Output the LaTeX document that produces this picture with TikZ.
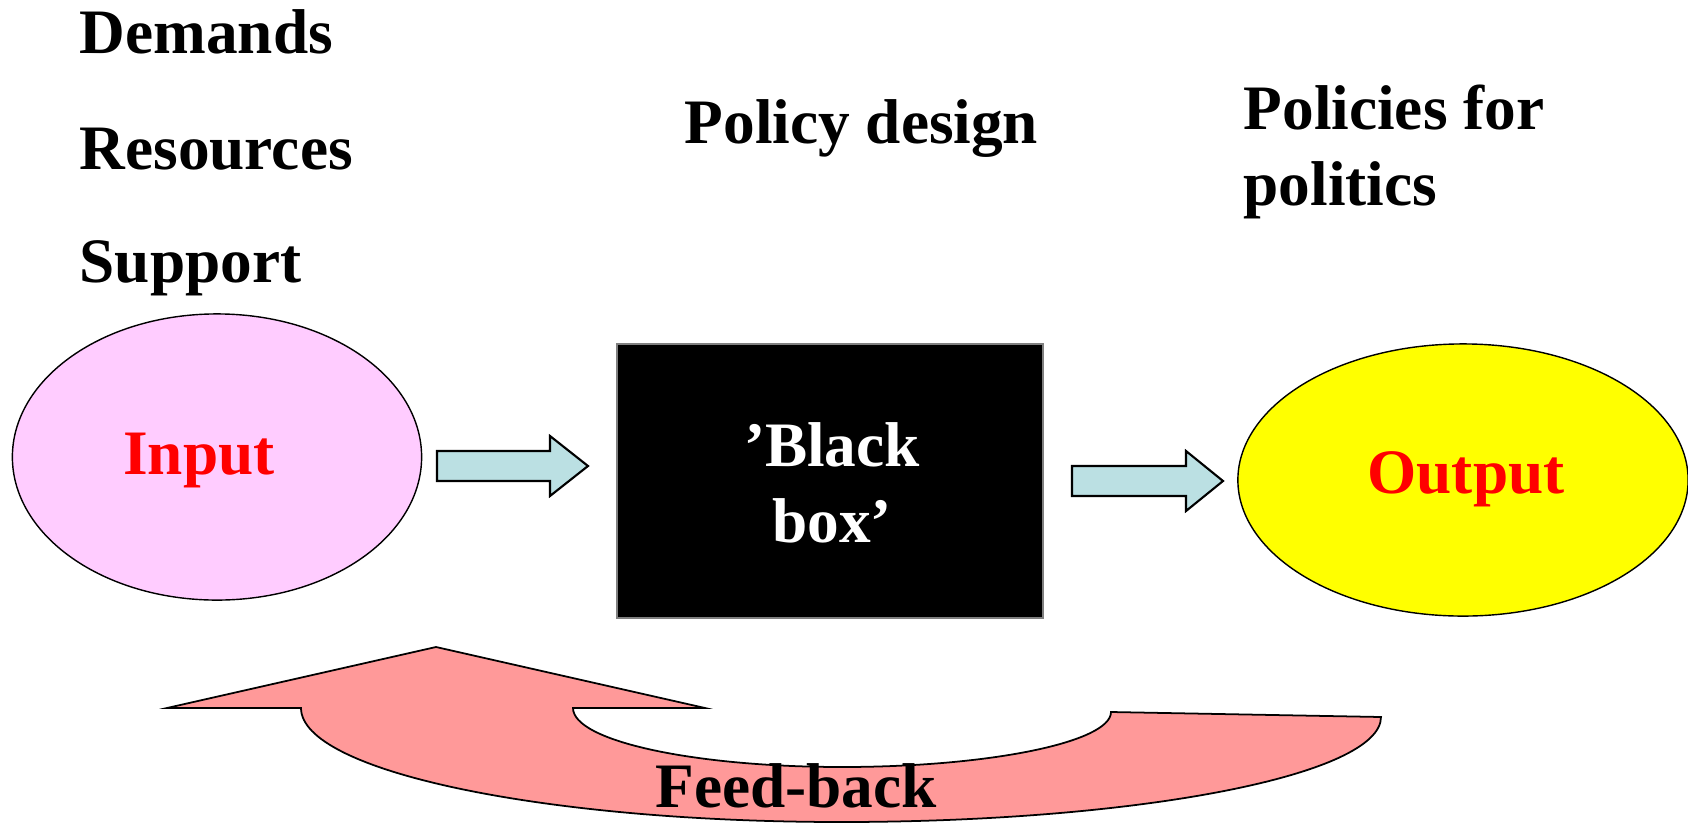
\documentclass[tikz,border=0pt]{standalone}
\usepackage{fontspec}
\setmainfont{Liberation Serif}
\usetikzlibrary{shapes.geometric}
\definecolor{inpink}{HTML}{FFCCFF}
\definecolor{outyellow}{HTML}{FFFF00}
\definecolor{arrowblue}{HTML}{BBE0E3}
\definecolor{fbpink}{HTML}{FF9999}
\tikzset{
  lbl/.style={font=\fontsize{18}{21.6}\selectfont\bfseries, inner sep=0pt, text=black},
  oval/.style={ellipse, draw=black, line width=0.4pt, inner sep=0pt},
  blockarrow/.style={draw=black, line width=0.6pt, fill=arrowblue, line join=miter},
}
\begin{document}
\begin{tikzpicture}[x=0.01cm, y=-0.01cm]
\useasboundingbox (0,0) rectangle (1688,824);
% top labels
\node[lbl, anchor=base west] (demands) at (79,54) {Demands};
\node[lbl, anchor=base west] (resources) at (79,169) {Resources};
\node[lbl, anchor=base west] (support) at (79,282) {Support};
\node[lbl, anchor=base west] (design) at (684,143) {Policy design};
\node[lbl, anchor=base west, align=left] (politics) at (1243,205) {Policies for\\politics};
% input ellipse
\node[oval, fill=inpink, minimum width=4.09cm, minimum height=2.86cm] (in) at (217,457) {};
\node[lbl, text=red] (intext) at (199,461) {Input};
% black box
\node[draw=gray, fill=black, line width=0.4pt, minimum width=4.26cm, minimum height=2.74cm, inner sep=0pt] (box) at (830,481) {};
\node[lbl, text=white, align=center] (boxtext) at (832,483) {’Black\\box’};
% output ellipse
\node[oval, fill=outyellow, minimum width=4.50cm, minimum height=2.72cm] (out) at (1463,480) {};
\node[lbl, text=red] (outtext) at (1466,479) {Output};
% block arrows
\draw[blockarrow] (437,451) -- (550,451) -- (550,436) -- (588,466) -- (550,496) -- (550,481) -- (437,481) -- cycle;
\draw[blockarrow] (1072,466) -- (1186,466) -- (1186,451) -- (1223,481) -- (1186,511) -- (1186,496) -- (1072,496) -- cycle;
% feedback arrow
\draw[fill=fbpink, draw=black, line width=0.5pt, line join=miter]
  (436,647) -- (705,708) -- (573,708)
  .. controls (573,741) and (694,767) .. (842,767)
  .. controls (990,767) and (1111,742) .. (1111,712)
  -- (1381,717)
  .. controls (1381,775) and (1139,822) .. (841,822)
  .. controls (543,822) and (301,771) .. (301,708)
  -- (167,708) -- cycle;
\node[lbl, anchor=base] (fb) at (796,807) {Feed-back};
\end{tikzpicture}
\end{document}
